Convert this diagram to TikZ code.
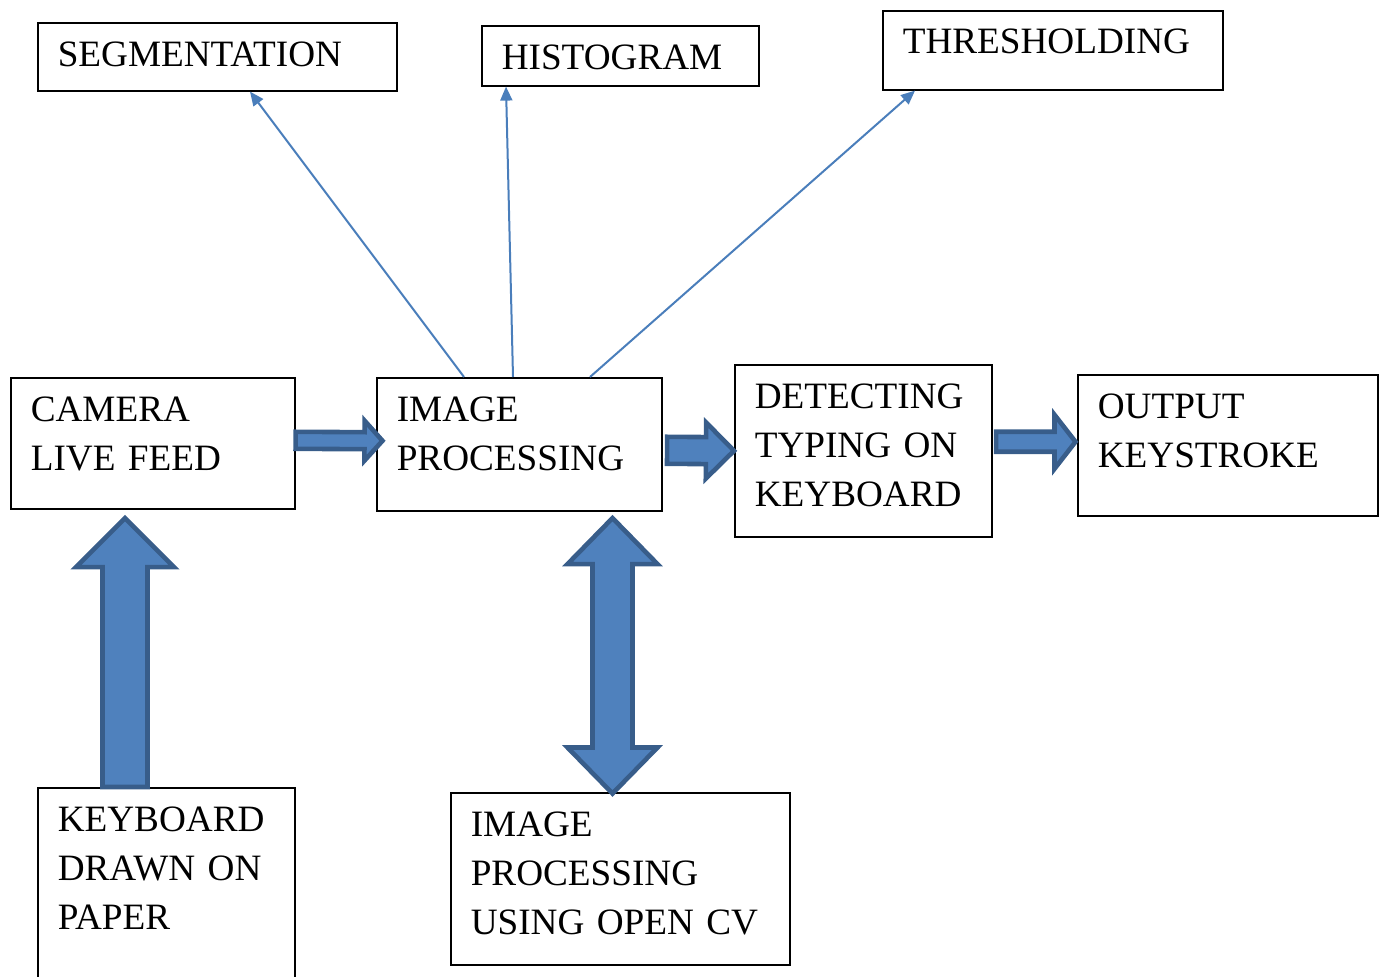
\documentclass[tikz,border=0pt]{standalone}
\usepackage{fontspec}
\setmainfont{Liberation Serif}
\usepackage{tikz}
\usetikzlibrary{calc,arrows.meta}
\definecolor{blockfill}{HTML}{4F81BD}
\definecolor{blockedge}{HTML}{385D8A}
\definecolor{pointer}{HTML}{4A7EBB}

\begin{document}
\begin{tikzpicture}[x=0.5pt,y=-0.5pt,
    box/.style={draw,line width=0.8pt,anchor=north west,align=left,
      inner xsep=10pt,inner ysep=0pt,text height=22pt,
      font=\fontsize{18.6}{24.5}\selectfont},
    thin/.style={draw=pointer,line width=1pt,-{Triangle[length=7pt,width=6pt]}},
    block/.style={fill=blockfill,draw=blockedge,line width=2.3pt,line join=miter},
    fat/.style n args={3}{
      to path={let \p1=(\tikztostart),\p2=(\tikztotarget),
        \n1={atan2(\y2-\y1,\x2-\x1)},\n2={veclen(\x2-\x1,\y2-\y1)-#3} in
        ($(\p1)+({\n1+90}:#1)$)
        -- ($(\p1)+(\n1:{\n2*1pt})+({\n1+90}:#1)$)
        -- ($(\p1)+(\n1:{\n2*1pt})+({\n1+90}:#2)$)
        -- (\p2)
        -- ($(\p1)+(\n1:{\n2*1pt})+({\n1-90}:#2)$)
        -- ($(\p1)+(\n1:{\n2*1pt})+({\n1-90}:#1)$)
        -- ($(\p1)+({\n1-90}:#1)$) -- cycle}},
    fatboth/.style n args={3}{
      to path={let \p1=(\tikztostart),\p2=(\tikztotarget),
        \n1={atan2(\y2-\y1,\x2-\x1)},\n2={veclen(\x2-\x1,\y2-\y1)-#3} in
        (\p1)
        -- ($(\p1)+(\n1:#3)+({\n1+90}:#2)$)
        -- ($(\p1)+(\n1:#3)+({\n1+90}:#1)$)
        -- ($(\p1)+(\n1:{\n2*1pt})+({\n1+90}:#1)$)
        -- ($(\p1)+(\n1:{\n2*1pt})+({\n1+90}:#2)$)
        -- (\p2)
        -- ($(\p1)+(\n1:{\n2*1pt})+({\n1-90}:#2)$)
        -- ($(\p1)+(\n1:{\n2*1pt})+({\n1-90}:#1)$)
        -- ($(\p1)+(\n1:#3)+({\n1-90}:#1)$)
        -- ($(\p1)+(\n1:#3)+({\n1-90}:#2)$) -- cycle}}]
    \useasboundingbox (0,0) rectangle (1385,977);

    \node[box,text width=159.5pt,text depth=12pt] (seg) at (37,22) {SEGMENTATION};
    \node[box,text width=118.5pt,text depth=8pt] (hist) at (481,25) {HISTOGRAM};
    \node[box,text width=150pt,text depth=18pt,text height=21.5pt] (thresh) at (882,10) {THRESHOLDING};
    \node[box,text width=122pt,text depth=43.5pt] (cam) at (10,377) {CAMERA\\LIVE FEED};
    \node[box,text width=122.5pt,text depth=44.5pt] (proc) at (376,377) {IMAGE\\PROCESSING};
    \node[box,text width=108.5pt,text depth=64pt] (detect) at (734,364) {DETECTING\\TYPING ON\\KEYBOARD};
    \node[box,text width=130pt,text depth=48.5pt] (out) at (1077,374) {OUTPUT\\KEYSTROKE};
    \node[box,text width=108.5pt,text depth=95pt] (kbd) at (37,787) {KEYBOARD\\DRAWN ON\\PAPER};
    \node[box,text width=149.5pt,text depth=64pt] (cv) at (450,792) {IMAGE\\PROCESSING\\USING OPEN CV};

    \draw[thin] ($(proc.north west)+(88,0)$) -- ($(seg.south west)+(213,0)$);
    \draw[thin] ($(proc.north west)+(137,0)$) -- ($(hist.south west)+(25,0)$);
    \draw[thin] ($(proc.north west)+(214,0)$) -- ($(thresh.south west)+(33,0)$);

    \draw[block] ($(cam.east)+(0,-3)$) to[fat={4.25pt}{10pt}{9pt}] ($(proc.west)+(6.5,-3.5)$);
    \draw[block] ($(proc.east)+(4.5,6)$) to[fat={6.75pt}{14pt}{14pt}] (detect.west);
    \draw[block] ($(detect.east)+(3.5,-9)$) to[fat={5pt}{13.5pt}{10.5pt}] ($(out.west)+(-1.5,-3.5)$);
    \draw[block] ($(kbd.north west)+(88,0)$) to[fat={11.25pt}{24.5pt}{24.5pt}] ($(cam.south west)+(115,8.5)$);
    \draw[block] ($(cv.north west)+(162.5,1.5)$) to[fatboth={10pt}{22.5pt}{23pt}] ($(proc.south west)+(236.5,6.5)$);
\end{tikzpicture}
\end{document}
